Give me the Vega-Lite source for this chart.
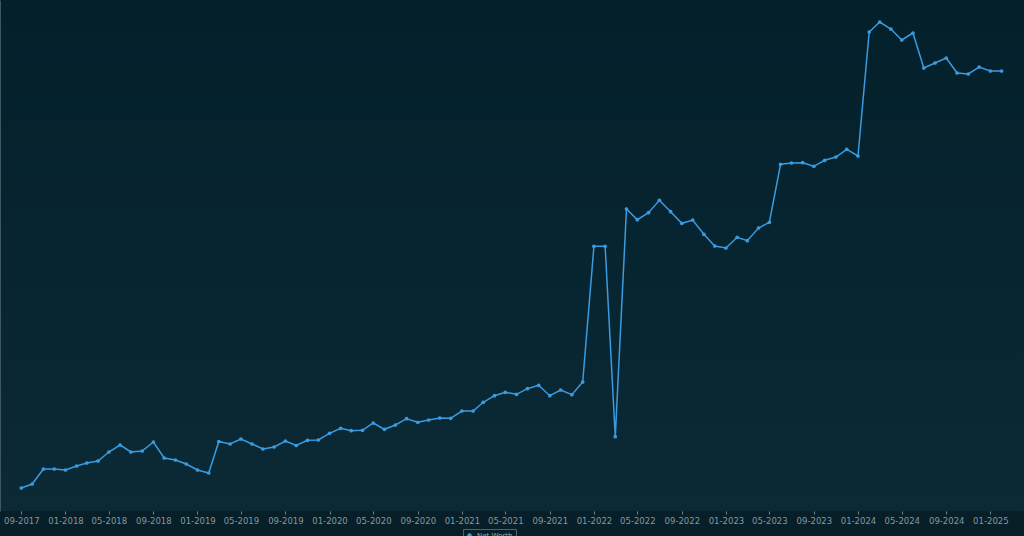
{
  "$schema": "https://vega.github.io/schema/vega-lite/v6.json",
  "width": 1024,
  "height": 511,
  "padding": 0,
  "background": "#061f28",
  "config": {
    "view": {"stroke": null, "fill": {"gradient": "linear", "x1": 0, "y1": 0, "x2": 0, "y2": 1, "stops": [{"offset": 0, "color": "#03202b"}, {"offset": 1, "color": "#0b2a35"}]}},
    "font": "DejaVu Sans"
  },
  "data": {"values": [
    {"month": "2017-09-01", "value": 23000},
    {"month": "2017-10-01", "value": 27000},
    {"month": "2017-11-01", "value": 42000},
    {"month": "2017-12-01", "value": 42000},
    {"month": "2018-01-01", "value": 41000},
    {"month": "2018-02-01", "value": 45000},
    {"month": "2018-03-01", "value": 48000},
    {"month": "2018-04-01", "value": 50000},
    {"month": "2018-05-01", "value": 59000},
    {"month": "2018-06-01", "value": 66000},
    {"month": "2018-07-01", "value": 59000},
    {"month": "2018-08-01", "value": 60000},
    {"month": "2018-09-01", "value": 69000},
    {"month": "2018-10-01", "value": 53000},
    {"month": "2018-11-01", "value": 51000},
    {"month": "2018-12-01", "value": 47000},
    {"month": "2019-01-01", "value": 41000},
    {"month": "2019-02-01", "value": 38000},
    {"month": "2019-03-01", "value": 69500},
    {"month": "2019-04-01", "value": 67000},
    {"month": "2019-05-01", "value": 72000},
    {"month": "2019-06-01", "value": 67000},
    {"month": "2019-07-01", "value": 62000},
    {"month": "2019-08-01", "value": 64000},
    {"month": "2019-09-01", "value": 70000},
    {"month": "2019-10-01", "value": 65500},
    {"month": "2019-11-01", "value": 70700},
    {"month": "2019-12-01", "value": 71000},
    {"month": "2020-01-01", "value": 77700},
    {"month": "2020-02-01", "value": 82700},
    {"month": "2020-03-01", "value": 80300},
    {"month": "2020-04-01", "value": 80700},
    {"month": "2020-05-01", "value": 88000},
    {"month": "2020-06-01", "value": 81700},
    {"month": "2020-07-01", "value": 86000},
    {"month": "2020-08-01", "value": 92300},
    {"month": "2020-09-01", "value": 88700},
    {"month": "2020-10-01", "value": 91000},
    {"month": "2020-11-01", "value": 93000},
    {"month": "2020-12-01", "value": 92700},
    {"month": "2021-01-01", "value": 100000},
    {"month": "2021-02-01", "value": 100000},
    {"month": "2021-03-01", "value": 108700},
    {"month": "2021-04-01", "value": 115300},
    {"month": "2021-05-01", "value": 118700},
    {"month": "2021-06-01", "value": 116700},
    {"month": "2021-07-01", "value": 122300},
    {"month": "2021-08-01", "value": 125700},
    {"month": "2021-09-01", "value": 115300},
    {"month": "2021-10-01", "value": 121000},
    {"month": "2021-11-01", "value": 116300},
    {"month": "2021-12-01", "value": 129000},
    {"month": "2022-01-01", "value": 264700},
    {"month": "2022-02-01", "value": 264700},
    {"month": "2022-03-01", "value": 74300},
    {"month": "2022-04-01", "value": 302000},
    {"month": "2022-05-01", "value": 291300},
    {"month": "2022-06-01", "value": 298300},
    {"month": "2022-07-01", "value": 310700},
    {"month": "2022-08-01", "value": 299300},
    {"month": "2022-09-01", "value": 287700},
    {"month": "2022-10-01", "value": 291000},
    {"month": "2022-11-01", "value": 276700},
    {"month": "2022-12-01", "value": 265000},
    {"month": "2023-01-01", "value": 263000},
    {"month": "2023-02-01", "value": 273700},
    {"month": "2023-03-01", "value": 270300},
    {"month": "2023-04-01", "value": 283000},
    {"month": "2023-05-01", "value": 288700},
    {"month": "2023-06-01", "value": 346700},
    {"month": "2023-07-01", "value": 348000},
    {"month": "2023-08-01", "value": 348300},
    {"month": "2023-09-01", "value": 344700},
    {"month": "2023-10-01", "value": 350700},
    {"month": "2023-11-01", "value": 354000},
    {"month": "2023-12-01", "value": 361700},
    {"month": "2024-01-01", "value": 355000},
    {"month": "2024-02-01", "value": 479000},
    {"month": "2024-03-01", "value": 489000},
    {"month": "2024-04-01", "value": 482000},
    {"month": "2024-05-01", "value": 471000},
    {"month": "2024-06-01", "value": 478000},
    {"month": "2024-07-01", "value": 443000},
    {"month": "2024-08-01", "value": 448000},
    {"month": "2024-09-01", "value": 453000},
    {"month": "2024-10-01", "value": 438000},
    {"month": "2024-11-01", "value": 437000},
    {"month": "2024-12-01", "value": 444000},
    {"month": "2025-01-01", "value": 440000},
    {"month": "2025-02-01", "value": 440000}
  ]},
  "mark": {"type": "line", "strokeWidth": 1.5, "point": {"filled": true, "size": 14}},
  "encoding": {
    "x": {
      "field": "month",
      "type": "temporal",
      "scale": {"type": "utc", "nice": false, "domain": [{"year": 2017, "month": 7, "date": 4, "utc": true}, {"year": 2025, "month": 4, "date": 4, "utc": true}]},
      "axis": {
        "title": null,
        "labelExpr": "utcFormat(datum.value, '%m-%Y')",
        "tickCount": {"interval": "month", "step": 4},
        "domain": false,
        "grid": false,
        "ticks": true,
        "tickSize": 3,
        "tickColor": "#6f8289",
        "labelColor": "#8a979d",
        "labelFontSize": 8.5,
        "labelPadding": 2,
        "labelFlush": false,
        "labelOverlap": false
      }
    },
    "y": {
      "field": "value",
      "type": "quantitative",
      "scale": {"domain": [0, 511000], "nice": false, "zero": false},
      "axis": {"title": null, "labels": false, "ticks": false, "grid": false, "domain": true, "domainColor": "#3e5861"}
    },
    "color": {
      "datum": "Net Worth",
      "scale": {"range": ["#3a9be0"]},
      "legend": {
        "title": null,
        "orient": "none",
        "legendX": 463,
        "legendY": 529,
        "strokeColor": "#4a6570",
        "padding": 3,
        "labelColor": "#9aa7ad",
        "labelFontSize": 7,
        "symbolType": "circle",
        "symbolSize": 20,
        "symbolStrokeWidth": 0
      }
    }
  }
}
